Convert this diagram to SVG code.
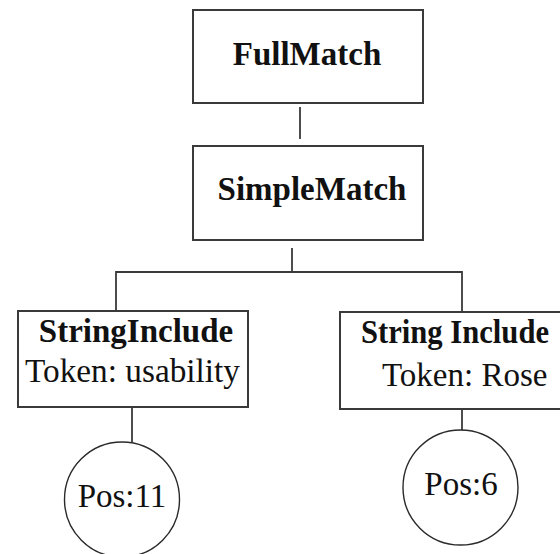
<svg xmlns="http://www.w3.org/2000/svg" width="560" height="554" viewBox="0 0 560 554">
  <style>
    .box { fill: #ffffff; stroke: #3a3a3a; stroke-width: 2; }
    .leaf { fill: #ffffff; stroke: #2a2a2a; stroke-width: 1.4; }
    .link { fill: none; stroke: #3a3a3a; stroke-width: 1.8; }
    .title { font-family: "Liberation Serif", "Times New Roman", serif; font-size: 33px; font-weight: bold; fill: #111; }
    .label { font-family: "Liberation Serif", "Times New Roman", serif; font-size: 33px; fill: #111; }
  </style>
  <rect width="560" height="554" fill="#ffffff"/>

  <g id="connectors">
    <line class="link" x1="300" y1="107" x2="300" y2="139"/>
    <line class="link" x1="292" y1="248" x2="292" y2="272"/>
    <polyline class="link" points="116,311 116,272 462,272 462,312"/>
    <line class="link" x1="132" y1="407" x2="132" y2="442"/>
    <line class="link" x1="462" y1="409" x2="462" y2="431"/>
  </g>

  <g id="full-match">
    <rect class="box" x="193" y="10" width="230" height="93"/>
    <text class="title" x="307" y="65" text-anchor="middle">FullMatch</text>
  </g>

  <g id="simple-match">
    <rect class="box" x="193" y="146" width="230" height="94"/>
    <text class="title" x="312" y="200" text-anchor="middle">SimpleMatch</text>
  </g>

  <g id="string-include-left">
    <rect class="box" x="18" y="311" width="230" height="96"/>
    <text class="title" x="136" y="342" text-anchor="middle">StringInclude</text>
    <text class="label" x="25" y="382" textLength="215" lengthAdjust="spacingAndGlyphs">Token: usability</text>
  </g>

  <g id="string-include-right">
    <!-- box runs past the right edge of the canvas -->
    <rect class="box" x="340" y="312" width="240" height="97"/>
    <text class="title" x="361" y="343" textLength="188" lengthAdjust="spacingAndGlyphs">String Include</text>
    <text class="label" x="382" y="386">Token: Rose</text>
  </g>

  <g id="pos-11">
    <circle class="leaf" cx="122" cy="499.5" r="57.5"/>
    <text class="label" x="122" y="507" text-anchor="middle">Pos:11</text>
  </g>

  <g id="pos-6">
    <circle class="leaf" cx="460.5" cy="487.5" r="57.5"/>
    <text class="label" x="461" y="495" text-anchor="middle">Pos:6</text>
  </g>
</svg>
